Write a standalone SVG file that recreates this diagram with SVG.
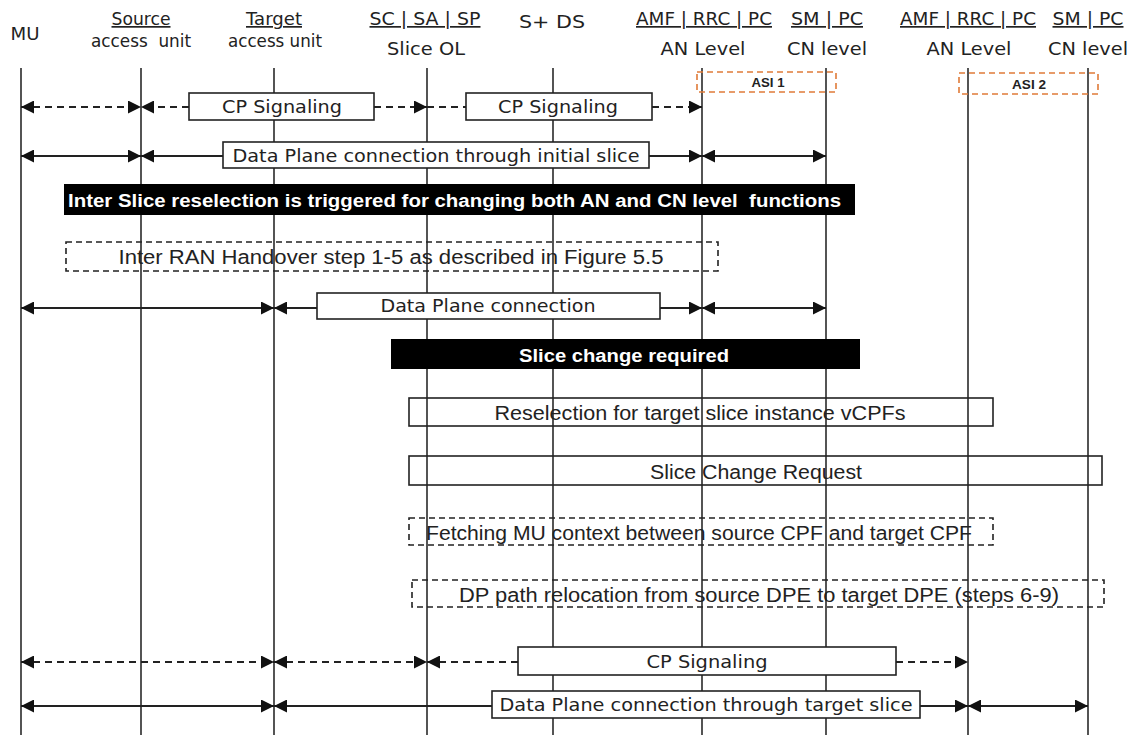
<svg xmlns="http://www.w3.org/2000/svg" width="1134" height="735" viewBox="0 0 1134 735">
<style>
  .hd{font-family:"DejaVu Sans",Verdana,sans-serif;font-size:17px;fill:#222;text-anchor:middle}
  .ul{text-decoration:underline}
  .life{stroke:#2a2a2a;stroke-width:1.6}
  .sol{stroke:#222;stroke-width:2;fill:none}
  .dsh{stroke:#222;stroke-width:2;stroke-dasharray:7 5;fill:none}
  .wbox{fill:#fff;stroke:#222;stroke-width:1.6}
  .obox{fill:none;stroke:#222;stroke-width:1.6}
  .dbox{fill:none;stroke:#222;stroke-width:1.6;stroke-dasharray:6 4}
  .asi{fill:none;stroke:#e07b39;stroke-width:1.6;stroke-dasharray:6 4}
  .bt{font-family:"DejaVu Sans",Verdana,sans-serif;font-size:18px;fill:#222;text-anchor:middle}
  .nt{font-family:"Liberation Sans",Arial,sans-serif;font-size:20px;fill:#222;text-anchor:middle}
  .band{fill:#000}
  .wt{font-family:"Liberation Sans",Arial,sans-serif;font-weight:bold;font-size:18px;fill:#fff}
  .asit{font-family:"Liberation Sans",Arial,sans-serif;font-weight:bold;font-size:13px;fill:#222;text-anchor:middle}
</style>
<defs>
  <marker id="ah" viewBox="0 0 13 13" refX="13" refY="6.5" markerWidth="13" markerHeight="13" markerUnits="userSpaceOnUse" orient="auto-start-reverse">
    <path d="M0,0 L13,6.5 L0,13 Z" fill="#111"/>
  </marker>
</defs>
<rect width="1134" height="735" fill="#fff"/>

<!-- headers -->
<g id="hdr-mu"><text class="hd" x="25" y="40" textLength="29" lengthAdjust="spacingAndGlyphs">MU</text></g>
<g id="hdr-source">
  <text class="hd ul" x="141" y="25" textLength="59" lengthAdjust="spacingAndGlyphs">Source</text>
  <text class="hd" x="141" y="47" textLength="100" lengthAdjust="spacingAndGlyphs" xml:space="preserve">access  unit</text>
</g>
<g id="hdr-target">
  <text class="hd ul" x="274" y="25" textLength="56" lengthAdjust="spacingAndGlyphs">Target</text>
  <text class="hd" x="275" y="47" textLength="94" lengthAdjust="spacingAndGlyphs">access unit</text>
</g>
<g id="hdr-sliceol">
  <text class="hd ul" x="425" y="25" textLength="111" lengthAdjust="spacingAndGlyphs">SC | SA | SP</text>
  <text class="hd" x="426" y="55" font-size="18" textLength="78" lengthAdjust="spacingAndGlyphs">Slice OL</text>
</g>
<g id="hdr-sds"><text class="hd" x="552" y="28" font-size="20" textLength="66" lengthAdjust="spacingAndGlyphs">S+ DS</text></g>
<g id="hdr-an1">
  <text class="hd ul" x="704" y="25" textLength="136" lengthAdjust="spacingAndGlyphs">AMF | RRC | PC</text>
  <text class="hd" x="703" y="55" font-size="18" textLength="85" lengthAdjust="spacingAndGlyphs">AN Level</text>
</g>
<g id="hdr-cn1">
  <text class="hd ul" x="827" y="25" textLength="72" lengthAdjust="spacingAndGlyphs">SM | PC</text>
  <text class="hd" x="827" y="55" font-size="18" textLength="80" lengthAdjust="spacingAndGlyphs">CN level</text>
</g>
<g id="hdr-an2">
  <text class="hd ul" x="968" y="25" textLength="136" lengthAdjust="spacingAndGlyphs">AMF | RRC | PC</text>
  <text class="hd" x="969" y="55" font-size="18" textLength="85" lengthAdjust="spacingAndGlyphs">AN Level</text>
</g>
<g id="hdr-cn2">
  <text class="hd ul" x="1088" y="25" textLength="71" lengthAdjust="spacingAndGlyphs">SM | PC</text>
  <text class="hd" x="1088" y="55" font-size="18" textLength="80" lengthAdjust="spacingAndGlyphs">CN level</text>
</g>

<!-- lifelines -->
<g id="lifelines">
  <line class="life" x1="21" y1="68" x2="21" y2="735"/>
  <line class="life" x1="141" y1="68" x2="141" y2="735"/>
  <line class="life" x1="274" y1="68" x2="274" y2="735"/>
  <line class="life" x1="427" y1="68" x2="427" y2="735"/>
  <line class="life" x1="553" y1="68" x2="553" y2="735"/>
  <line class="life" x1="702" y1="68" x2="702" y2="735"/>
  <line class="life" x1="826" y1="68" x2="826" y2="735"/>
  <line class="life" x1="968" y1="68" x2="968" y2="735"/>
  <line class="life" x1="1088" y1="68" x2="1088" y2="735"/>
</g>

<!-- ASI boxes -->
<g id="asi1"><rect class="asi" x="697" y="72" width="139" height="20"/><text class="asit" x="768" y="87" textLength="33" lengthAdjust="spacingAndGlyphs">ASI 1</text></g>
<g id="asi2"><rect class="asi" x="959" y="73" width="139" height="21"/><text class="asit" x="1029" y="89" textLength="34" lengthAdjust="spacingAndGlyphs">ASI 2</text></g>

<!-- connectors -->
<g id="connectors">
  <!-- row 1 -->
  <line class="dsh" x1="21" y1="107" x2="141" y2="107" marker-start="url(#ah)" marker-end="url(#ah)"/>
  <line class="dsh" x1="189" y1="107" x2="141" y2="107" marker-end="url(#ah)"/>
  <line class="dsh" x1="374" y1="107" x2="427" y2="107" marker-end="url(#ah)"/>
  <line class="dsh" x1="427" y1="107" x2="466" y2="107"/>
  <line class="dsh" x1="652" y1="107" x2="702" y2="107" marker-end="url(#ah)"/>
  <!-- row 2 -->
  <line class="sol" x1="21" y1="156" x2="141" y2="156" marker-start="url(#ah)" marker-end="url(#ah)"/>
  <line class="sol" x1="223" y1="156" x2="141" y2="156" marker-end="url(#ah)"/>
  <line class="sol" x1="649" y1="156" x2="702" y2="156" marker-end="url(#ah)"/>
  <line class="sol" x1="702" y1="156" x2="826" y2="156" marker-start="url(#ah)" marker-end="url(#ah)"/>
  <!-- row 5 -->
  <line class="sol" x1="21" y1="308" x2="274" y2="308" marker-start="url(#ah)" marker-end="url(#ah)"/>
  <line class="sol" x1="317" y1="308" x2="274" y2="308" marker-end="url(#ah)"/>
  <line class="sol" x1="660" y1="308" x2="702" y2="308" marker-end="url(#ah)"/>
  <line class="sol" x1="702" y1="308" x2="826" y2="308" marker-start="url(#ah)" marker-end="url(#ah)"/>
  <!-- row 11 -->
  <line class="dsh" x1="21" y1="662" x2="274" y2="662" marker-start="url(#ah)" marker-end="url(#ah)"/>
  <line class="dsh" x1="274" y1="662" x2="427" y2="662" marker-start="url(#ah)" marker-end="url(#ah)"/>
  <line class="dsh" x1="518" y1="662" x2="427" y2="662" marker-end="url(#ah)"/>
  <line class="dsh" x1="896" y1="662" x2="968" y2="662" marker-end="url(#ah)"/>
  <!-- row 12 -->
  <line class="sol" x1="21" y1="706" x2="274" y2="706" marker-start="url(#ah)" marker-end="url(#ah)"/>
  <line class="sol" x1="492" y1="706" x2="274" y2="706" marker-end="url(#ah)"/>
  <line class="sol" x1="920" y1="706" x2="968" y2="706" marker-end="url(#ah)"/>
  <line class="sol" x1="968" y1="706" x2="1088" y2="706" marker-start="url(#ah)" marker-end="url(#ah)"/>
</g>

<!-- message boxes -->
<g id="cp1"><rect class="wbox" x="189" y="93" width="185" height="27"/><text class="bt" x="282" y="113" textLength="120" lengthAdjust="spacingAndGlyphs">CP Signaling</text></g>
<g id="cp2"><rect class="wbox" x="466" y="93" width="186" height="27"/><text class="bt" x="558" y="113" textLength="120" lengthAdjust="spacingAndGlyphs">CP Signaling</text></g>
<g id="dp1"><rect class="wbox" x="223" y="142" width="426" height="26"/><text class="bt" x="436" y="162" textLength="407" lengthAdjust="spacingAndGlyphs">Data Plane connection through initial slice</text></g>
<g id="band1"><rect class="band" x="64" y="184" width="791" height="31"/><text class="wt" x="68" y="207" textLength="773" lengthAdjust="spacingAndGlyphs" xml:space="preserve">Inter Slice reselection is triggered for changing both AN and CN level  functions</text></g>
<g id="handover"><rect class="dbox" x="66" y="242" width="652" height="29"/><text class="nt" x="391" y="264" textLength="545" lengthAdjust="spacingAndGlyphs">Inter RAN Handover step 1-5 as described in Figure 5.5</text></g>
<g id="dp2"><rect class="wbox" x="317" y="293" width="343" height="26"/><text class="bt" x="488" y="312" textLength="215" lengthAdjust="spacingAndGlyphs">Data Plane connection</text></g>
<g id="band2"><rect class="band" x="391" y="339" width="469" height="30"/><text class="wt" x="519" y="362" textLength="210" lengthAdjust="spacingAndGlyphs">Slice change required</text></g>
<g id="reselect"><rect class="obox" x="409" y="398" width="584" height="28"/><text class="nt" x="700" y="420" textLength="411" lengthAdjust="spacingAndGlyphs">Reselection for target slice instance vCPFs</text></g>
<g id="scr"><rect class="obox" x="409" y="456" width="693" height="29"/><text class="nt" x="756" y="479" textLength="212" lengthAdjust="spacingAndGlyphs">Slice Change Request</text></g>
<g id="fetch"><rect class="dbox" x="409" y="518" width="584" height="27"/><text class="nt" x="699" y="540" textLength="546" lengthAdjust="spacingAndGlyphs">Fetching MU context between source CPF and target CPF</text></g>
<g id="dppath"><rect class="dbox" x="412" y="580" width="692" height="27"/><text class="nt" x="759" y="602" textLength="600" lengthAdjust="spacingAndGlyphs">DP path relocation from source DPE to target DPE (steps 6-9)</text></g>
<g id="cp3"><rect class="wbox" x="518" y="647" width="378" height="28"/><text class="bt" x="707" y="668" textLength="121" lengthAdjust="spacingAndGlyphs">CP Signaling</text></g>
<g id="dp3"><rect class="wbox" x="492" y="691" width="428" height="27"/><text class="bt" x="706" y="711" textLength="413" lengthAdjust="spacingAndGlyphs">Data Plane connection through target slice</text></g>
</svg>
